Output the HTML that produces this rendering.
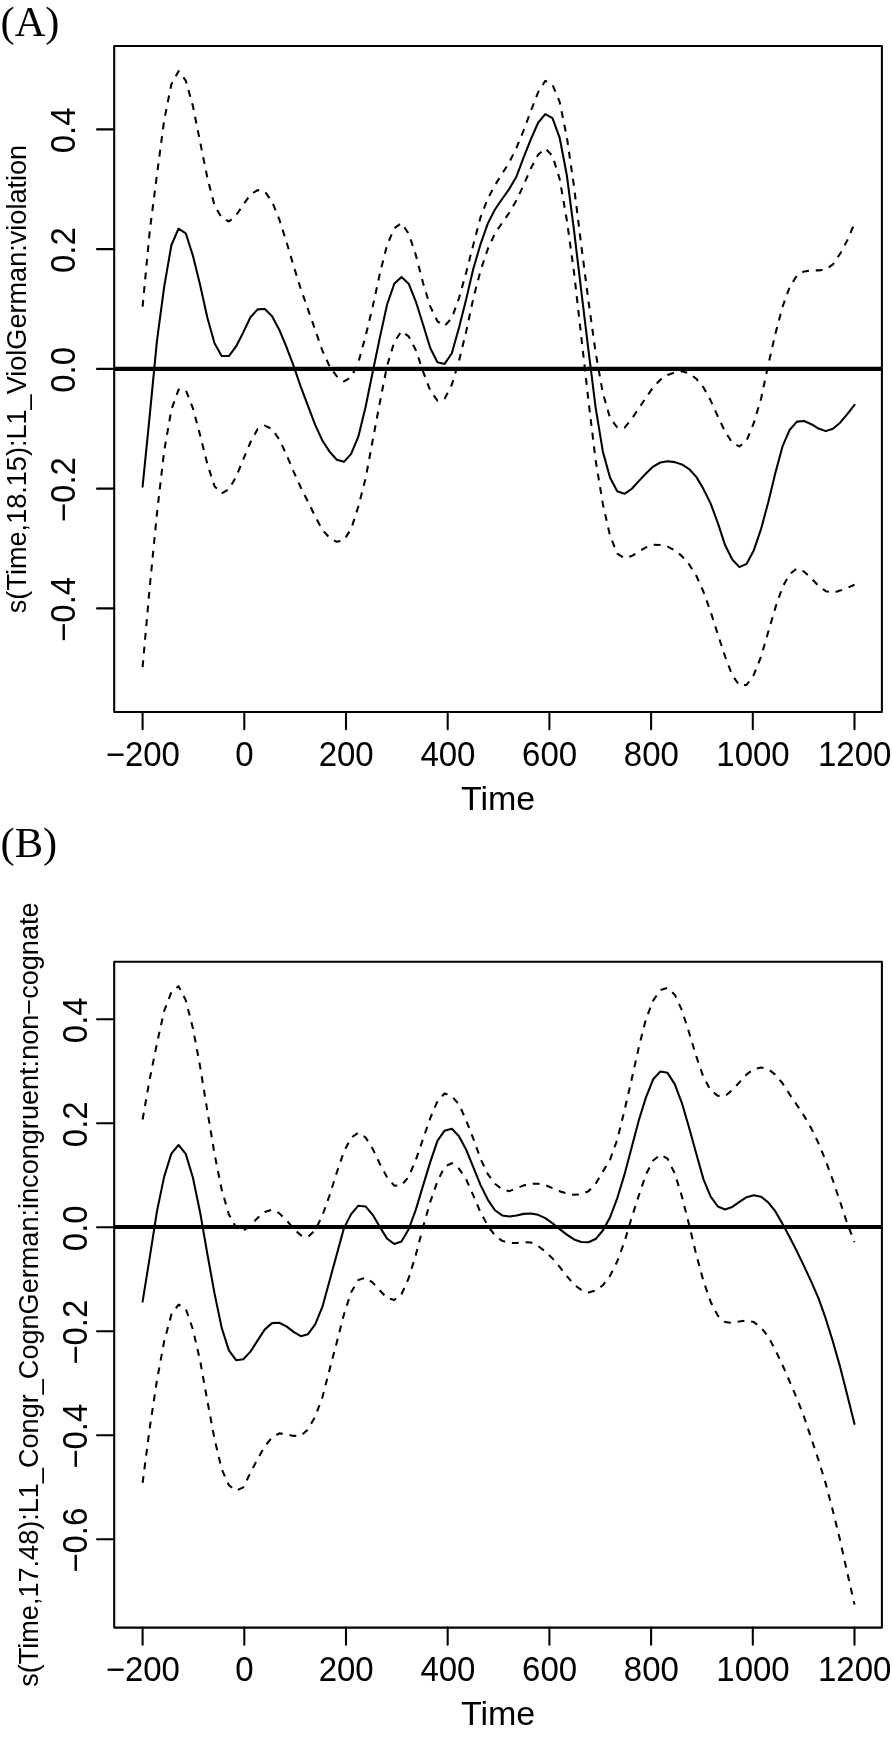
<!DOCTYPE html>
<html><head><meta charset="utf-8"><style>
html,body{margin:0;padding:0;background:#fff;}
body{width:892px;height:1737px;overflow:hidden;}
svg{display:block;will-change:transform;}
.t{font-family:"Liberation Sans",sans-serif;font-size:34.3px;fill:#000;}
.yl{font-family:"Liberation Sans",sans-serif;fill:#000;}
.pl{font-family:"Liberation Serif",serif;font-size:42.5px;fill:#000;}
</style></head><body>
<svg width="892" height="1737" viewBox="0 0 892 1737">
<rect width="892" height="1737" fill="#fff"/>
<rect x="114.2" y="46.0" width="767.70" height="666.00" fill="none" stroke="#000" stroke-width="2.06" stroke-linejoin="round"/>
<line x1="142.60" y1="712.0" x2="142.60" y2="729.20" stroke="#000" stroke-width="2.06" stroke-linecap="round"/>
<text transform="translate(142.80,766.3) scale(0.962,1)" class="t" text-anchor="middle">−200</text>
<line x1="244.30" y1="712.0" x2="244.30" y2="729.20" stroke="#000" stroke-width="2.06" stroke-linecap="round"/>
<text transform="translate(244.50,766.3) scale(0.962,1)" class="t" text-anchor="middle">0</text>
<line x1="346.00" y1="712.0" x2="346.00" y2="729.20" stroke="#000" stroke-width="2.06" stroke-linecap="round"/>
<text transform="translate(346.20,766.3) scale(0.962,1)" class="t" text-anchor="middle">200</text>
<line x1="447.70" y1="712.0" x2="447.70" y2="729.20" stroke="#000" stroke-width="2.06" stroke-linecap="round"/>
<text transform="translate(447.90,766.3) scale(0.962,1)" class="t" text-anchor="middle">400</text>
<line x1="549.40" y1="712.0" x2="549.40" y2="729.20" stroke="#000" stroke-width="2.06" stroke-linecap="round"/>
<text transform="translate(549.60,766.3) scale(0.962,1)" class="t" text-anchor="middle">600</text>
<line x1="651.10" y1="712.0" x2="651.10" y2="729.20" stroke="#000" stroke-width="2.06" stroke-linecap="round"/>
<text transform="translate(651.30,766.3) scale(0.962,1)" class="t" text-anchor="middle">800</text>
<line x1="752.80" y1="712.0" x2="752.80" y2="729.20" stroke="#000" stroke-width="2.06" stroke-linecap="round"/>
<text transform="translate(753.00,766.3) scale(0.962,1)" class="t" text-anchor="middle">1000</text>
<line x1="854.50" y1="712.0" x2="854.50" y2="729.20" stroke="#000" stroke-width="2.06" stroke-linecap="round"/>
<text transform="translate(854.70,766.3) scale(0.962,1)" class="t" text-anchor="middle">1200</text>
<text x="498.05" y="809.7" class="t" style="font-size:34px" text-anchor="middle">Time</text>
<line x1="114.2" y1="129.40" x2="97.00" y2="129.40" stroke="#000" stroke-width="2.06" stroke-linecap="round"/>
<text transform="translate(75.0,130.40) rotate(-90) scale(0.962,1)" class="t" text-anchor="middle">0.4</text>
<line x1="114.2" y1="249.15" x2="97.00" y2="249.15" stroke="#000" stroke-width="2.06" stroke-linecap="round"/>
<text transform="translate(75.0,250.15) rotate(-90) scale(0.962,1)" class="t" text-anchor="middle">0.2</text>
<line x1="114.2" y1="368.90" x2="97.00" y2="368.90" stroke="#000" stroke-width="2.06" stroke-linecap="round"/>
<text transform="translate(75.0,369.90) rotate(-90) scale(0.962,1)" class="t" text-anchor="middle">0.0</text>
<line x1="114.2" y1="488.65" x2="97.00" y2="488.65" stroke="#000" stroke-width="2.06" stroke-linecap="round"/>
<text transform="translate(75.0,489.65) rotate(-90) scale(0.962,1)" class="t" text-anchor="middle">−0.2</text>
<line x1="114.2" y1="608.40" x2="97.00" y2="608.40" stroke="#000" stroke-width="2.06" stroke-linecap="round"/>
<text transform="translate(75.0,609.40) rotate(-90) scale(0.962,1)" class="t" text-anchor="middle">−0.4</text>
<text transform="translate(25.7,379.00) rotate(-90)" class="yl" style="font-size:27.1px" text-anchor="middle">s(Time,18.15):L1_ViolGerman:violation</text>
<line x1="114.2" y1="368.9" x2="881.9" y2="368.9" stroke="#000" stroke-width="4.12"/>
<polyline points="142.60,306.70 149.79,230.58 156.98,174.43 164.17,120.31 171.36,84.19 178.55,71.17 185.75,80.58 192.94,106.11 200.13,142.10 207.32,177.55 214.51,205.42 221.70,217.72 228.89,221.50 236.08,215.33 243.27,204.80 250.46,194.44 257.65,190.13 264.85,191.57 272.04,201.60 279.23,219.30 286.42,241.70 293.61,265.87 300.80,288.98 307.99,309.43 315.18,329.86 322.37,350.59 329.56,366.28 336.75,376.23 343.95,381.32 351.14,377.23 358.33,362.63 365.52,336.35 372.71,306.63 379.90,273.44 387.09,244.97 394.28,228.34 401.47,223.11 408.66,233.64 415.85,255.15 423.05,283.05 430.24,306.42 437.43,321.30 444.62,326.02 451.81,317.98 459.00,298.26 466.19,272.41 473.38,244.55 480.57,217.18 487.76,198.66 494.95,185.17 502.15,173.75 509.34,162.16 516.53,147.71 523.72,130.20 530.91,110.83 538.10,92.30 545.29,80.81 552.48,84.68 559.67,101.92 566.86,137.22 574.05,186.74 581.25,245.06 588.44,300.84 595.63,352.58 602.82,392.97 610.01,417.88 617.20,427.26 624.39,427.84 631.58,419.24 638.77,408.39 645.96,397.71 653.15,387.32 660.35,379.67 667.54,374.95 674.73,372.46 681.92,371.18 689.11,373.23 696.30,378.77 703.49,387.40 710.68,400.61 717.87,416.46 725.06,431.60 732.25,442.72 739.45,446.44 746.64,440.42 753.83,422.90 761.02,398.94 768.21,364.88 775.40,333.61 782.59,306.61 789.78,286.86 796.97,275.43 804.16,271.40 811.35,270.28 818.55,270.39 825.74,269.58 832.93,264.33 840.12,253.75 847.31,240.26 854.50,223.50" fill="none" stroke="#000" stroke-width="2.06" stroke-dasharray="6.87 6.87" stroke-linejoin="round"/>
<polyline points="142.60,667.10 149.79,586.60 156.98,513.16 164.17,451.07 171.36,409.74 178.55,389.63 185.75,389.95 192.94,408.37 200.13,435.12 207.32,463.97 214.51,486.18 221.70,493.43 228.89,489.31 236.08,476.88 243.27,459.33 250.46,442.25 257.65,428.92 264.85,425.62 272.04,428.99 279.23,439.45 286.42,454.57 293.61,471.59 300.80,487.49 307.99,501.78 315.18,516.36 322.37,529.85 329.56,537.82 336.75,541.83 343.95,540.13 351.14,529.01 358.33,506.56 365.52,478.71 372.71,440.31 379.90,402.19 387.09,365.67 394.28,342.06 401.47,331.13 408.66,336.29 415.85,350.18 423.05,371.41 430.24,390.54 437.43,400.64 444.62,398.67 451.81,384.81 459.00,360.85 466.19,331.48 473.38,297.91 480.57,270.66 487.76,249.11 494.95,233.36 502.15,222.91 509.34,212.61 516.53,200.32 523.72,184.81 530.91,168.25 538.10,154.75 545.29,148.53 552.48,155.85 559.67,179.01 566.86,220.39 574.05,272.54 581.25,336.52 588.44,400.50 595.63,460.37 602.82,503.73 610.01,535.59 617.20,553.52 624.39,558.19 631.58,556.08 638.77,551.69 645.96,547.37 653.15,544.67 660.35,545.02 667.54,546.55 674.73,550.23 681.92,556.14 689.11,564.38 696.30,575.74 703.49,591.84 710.68,611.85 717.87,634.50 725.06,656.35 732.25,675.27 739.45,685.41 746.64,684.87 753.83,674.74 761.02,656.72 768.21,632.05 775.40,607.69 782.59,586.78 789.78,574.01 796.97,568.46 804.16,571.64 811.35,578.39 818.55,585.84 825.74,591.15 832.93,592.74 840.12,590.60 847.31,587.88 854.50,584.80" fill="none" stroke="#000" stroke-width="2.06" stroke-dasharray="6.87 6.87" stroke-linejoin="round"/>
<polyline points="142.60,486.60 149.79,414.89 156.98,340.66 164.17,286.92 171.36,245.23 178.55,228.65 185.75,233.28 192.94,255.70 200.13,285.09 207.32,317.57 214.51,343.32 221.70,356.00 228.89,356.01 236.08,346.43 243.27,332.35 250.46,317.20 257.65,309.37 264.85,309.02 272.04,316.30 279.23,329.65 286.42,346.89 293.61,365.85 300.80,386.81 307.99,405.98 315.18,424.83 322.37,440.54 329.56,451.60 336.75,459.80 343.95,461.84 351.14,453.85 358.33,436.68 365.52,407.25 372.71,372.08 379.90,337.40 387.09,304.51 394.28,283.75 401.47,276.90 408.66,283.71 415.85,301.54 423.05,324.52 430.24,347.99 437.43,362.20 444.62,363.92 451.81,353.29 459.00,327.67 466.19,299.17 473.38,268.57 480.57,244.06 487.76,223.65 494.95,209.51 502.15,199.03 509.34,188.79 516.53,176.42 523.72,157.03 530.91,139.06 538.10,122.74 545.29,114.09 552.48,118.23 559.67,137.78 566.86,175.50 574.05,230.62 581.25,290.66 588.44,350.16 595.63,407.63 602.82,451.43 610.01,477.53 617.20,491.32 624.39,493.79 631.58,488.99 638.77,481.15 645.96,473.51 653.15,466.61 660.35,462.49 667.54,461.28 674.73,462.13 681.92,464.49 689.11,469.05 696.30,476.87 703.49,489.10 710.68,503.61 717.87,523.13 725.06,545.07 732.25,559.54 739.45,567.10 746.64,563.82 753.83,550.19 761.02,529.14 768.21,502.42 775.40,472.78 782.59,446.18 789.78,429.69 796.97,421.63 804.16,420.96 811.35,424.22 818.55,428.58 825.74,431.13 832.93,428.71 840.12,422.68 847.31,414.14 854.50,404.80" fill="none" stroke="#000" stroke-width="2.06" stroke-linejoin="round" stroke-linecap="round"/>
<text x="0.5" y="35.8" class="pl">(A)</text>
<rect x="114.2" y="961.7" width="767.70" height="665.90" fill="none" stroke="#000" stroke-width="2.06" stroke-linejoin="round"/>
<line x1="142.60" y1="1627.6" x2="142.60" y2="1644.80" stroke="#000" stroke-width="2.06" stroke-linecap="round"/>
<text transform="translate(142.80,1681.0) scale(0.962,1)" class="t" text-anchor="middle">−200</text>
<line x1="244.30" y1="1627.6" x2="244.30" y2="1644.80" stroke="#000" stroke-width="2.06" stroke-linecap="round"/>
<text transform="translate(244.50,1681.0) scale(0.962,1)" class="t" text-anchor="middle">0</text>
<line x1="346.00" y1="1627.6" x2="346.00" y2="1644.80" stroke="#000" stroke-width="2.06" stroke-linecap="round"/>
<text transform="translate(346.20,1681.0) scale(0.962,1)" class="t" text-anchor="middle">200</text>
<line x1="447.70" y1="1627.6" x2="447.70" y2="1644.80" stroke="#000" stroke-width="2.06" stroke-linecap="round"/>
<text transform="translate(447.90,1681.0) scale(0.962,1)" class="t" text-anchor="middle">400</text>
<line x1="549.40" y1="1627.6" x2="549.40" y2="1644.80" stroke="#000" stroke-width="2.06" stroke-linecap="round"/>
<text transform="translate(549.60,1681.0) scale(0.962,1)" class="t" text-anchor="middle">600</text>
<line x1="651.10" y1="1627.6" x2="651.10" y2="1644.80" stroke="#000" stroke-width="2.06" stroke-linecap="round"/>
<text transform="translate(651.30,1681.0) scale(0.962,1)" class="t" text-anchor="middle">800</text>
<line x1="752.80" y1="1627.6" x2="752.80" y2="1644.80" stroke="#000" stroke-width="2.06" stroke-linecap="round"/>
<text transform="translate(753.00,1681.0) scale(0.962,1)" class="t" text-anchor="middle">1000</text>
<line x1="854.50" y1="1627.6" x2="854.50" y2="1644.80" stroke="#000" stroke-width="2.06" stroke-linecap="round"/>
<text transform="translate(854.70,1681.0) scale(0.962,1)" class="t" text-anchor="middle">1200</text>
<text x="498.05" y="1725.3" class="t" style="font-size:34px" text-anchor="middle">Time</text>
<line x1="114.2" y1="1019.30" x2="97.00" y2="1019.30" stroke="#000" stroke-width="2.06" stroke-linecap="round"/>
<text transform="translate(87.0,1020.30) rotate(-90) scale(0.962,1)" class="t" text-anchor="middle">0.4</text>
<line x1="114.2" y1="1123.28" x2="97.00" y2="1123.28" stroke="#000" stroke-width="2.06" stroke-linecap="round"/>
<text transform="translate(87.0,1124.28) rotate(-90) scale(0.962,1)" class="t" text-anchor="middle">0.2</text>
<line x1="114.2" y1="1227.26" x2="97.00" y2="1227.26" stroke="#000" stroke-width="2.06" stroke-linecap="round"/>
<text transform="translate(87.0,1228.26) rotate(-90) scale(0.962,1)" class="t" text-anchor="middle">0.0</text>
<line x1="114.2" y1="1331.24" x2="97.00" y2="1331.24" stroke="#000" stroke-width="2.06" stroke-linecap="round"/>
<text transform="translate(87.0,1332.24) rotate(-90) scale(0.962,1)" class="t" text-anchor="middle">−0.2</text>
<line x1="114.2" y1="1435.22" x2="97.00" y2="1435.22" stroke="#000" stroke-width="2.06" stroke-linecap="round"/>
<text transform="translate(87.0,1436.22) rotate(-90) scale(0.962,1)" class="t" text-anchor="middle">−0.4</text>
<line x1="114.2" y1="1539.20" x2="97.00" y2="1539.20" stroke="#000" stroke-width="2.06" stroke-linecap="round"/>
<text transform="translate(87.0,1540.20) rotate(-90) scale(0.962,1)" class="t" text-anchor="middle">−0.6</text>
<text transform="translate(38.4,1294.65) rotate(-90)" class="yl" style="font-size:27.1px" text-anchor="middle">s(Time,17.48):L1_Congr_CognGerman:incongruent:non−cognate</text>
<line x1="114.2" y1="1227.0" x2="881.9" y2="1227.0" stroke="#000" stroke-width="4.12"/>
<polyline points="142.60,1119.50 149.79,1078.78 156.98,1043.33 164.17,1010.81 171.36,992.33 178.55,986.19 185.75,1000.15 192.94,1028.30 200.13,1066.68 207.32,1110.77 214.51,1153.85 221.70,1189.64 228.89,1214.52 236.08,1227.60 243.27,1230.85 250.46,1225.69 257.65,1217.85 264.85,1212.04 272.04,1209.63 279.23,1213.17 286.42,1220.15 293.61,1228.56 300.80,1235.33 307.99,1237.08 315.18,1230.20 322.37,1215.52 329.56,1195.38 336.75,1172.54 343.95,1151.63 351.14,1137.71 358.33,1132.69 365.52,1137.36 372.71,1148.83 379.90,1164.00 387.09,1177.38 394.28,1185.69 401.47,1185.28 408.66,1176.87 415.85,1159.80 423.05,1138.96 430.24,1118.14 437.43,1101.38 444.62,1093.39 451.81,1096.27 459.00,1104.34 466.19,1120.45 473.38,1138.80 480.57,1158.86 487.76,1174.10 494.95,1183.79 502.15,1189.34 509.34,1191.16 516.53,1188.28 523.72,1185.38 530.91,1183.83 538.10,1183.68 545.29,1185.02 552.48,1188.14 559.67,1191.19 566.86,1193.48 574.05,1194.81 581.25,1194.38 588.44,1191.20 595.63,1183.81 602.82,1171.61 610.01,1159.78 617.20,1139.76 624.39,1110.91 631.58,1079.71 638.77,1047.50 645.96,1019.02 653.15,1000.57 660.35,990.01 667.54,987.77 674.73,994.66 681.92,1010.30 689.11,1032.69 696.30,1056.40 703.49,1077.09 710.68,1090.18 717.87,1095.83 725.06,1096.11 732.25,1090.03 739.45,1082.35 746.64,1074.41 753.83,1069.13 761.02,1067.45 768.21,1069.17 775.40,1074.64 782.59,1083.43 789.78,1094.52 796.97,1105.06 804.16,1115.99 811.35,1128.60 818.55,1143.35 825.74,1160.75 832.93,1180.43 840.12,1201.92 847.31,1223.55 854.50,1242.20" fill="none" stroke="#000" stroke-width="2.06" stroke-dasharray="6.87 6.87" stroke-linejoin="round"/>
<polyline points="142.60,1482.90 149.79,1427.53 156.98,1380.13 164.17,1341.39 171.36,1314.63 178.55,1304.61 185.75,1308.71 192.94,1329.44 200.13,1360.75 207.32,1400.63 214.51,1439.04 221.70,1469.19 228.89,1485.28 236.08,1490.66 243.27,1487.31 250.46,1472.77 257.65,1458.76 264.85,1446.19 272.04,1437.49 279.23,1433.36 286.42,1434.21 293.61,1435.89 300.80,1435.85 307.99,1429.37 315.18,1416.68 322.37,1397.28 329.56,1369.67 336.75,1342.51 343.95,1314.33 351.14,1292.18 358.33,1280.00 365.52,1277.66 372.71,1282.61 379.90,1290.51 387.09,1298.13 394.28,1300.01 401.47,1294.23 408.66,1278.29 415.85,1254.75 423.05,1227.11 430.24,1201.85 437.43,1181.49 444.62,1166.69 451.81,1163.08 459.00,1168.62 466.19,1179.43 473.38,1195.65 480.57,1212.49 487.76,1225.70 494.95,1235.49 502.15,1240.83 509.34,1242.96 516.53,1243.01 523.72,1242.04 530.91,1242.53 538.10,1246.01 545.29,1251.47 552.48,1258.45 559.67,1266.95 566.86,1276.18 574.05,1284.61 581.25,1289.87 588.44,1292.40 595.63,1290.56 602.82,1285.26 610.01,1275.86 617.20,1261.41 624.39,1242.05 631.58,1217.94 638.77,1195.62 645.96,1174.34 653.15,1160.57 660.35,1154.71 667.54,1158.65 674.73,1173.46 681.92,1196.46 689.11,1224.87 696.30,1254.74 703.49,1281.27 710.68,1301.96 717.87,1315.76 725.06,1321.95 732.25,1322.82 739.45,1321.50 746.64,1320.49 753.83,1322.11 761.02,1327.56 768.21,1336.56 775.40,1350.23 782.59,1365.23 789.78,1381.83 796.97,1398.60 804.16,1417.13 811.35,1438.62 818.55,1460.06 825.74,1483.61 832.93,1511.10 840.12,1540.33 847.31,1572.88 854.50,1604.50" fill="none" stroke="#000" stroke-width="2.06" stroke-dasharray="6.87 6.87" stroke-linejoin="round"/>
<polyline points="142.60,1301.70 149.79,1257.04 156.98,1211.15 164.17,1176.61 171.36,1153.60 178.55,1145.00 185.75,1153.88 192.94,1177.74 200.13,1212.43 207.32,1253.72 214.51,1293.37 221.70,1327.86 228.89,1350.43 236.08,1360.18 243.27,1359.31 250.46,1351.62 257.65,1340.33 264.85,1329.39 272.04,1323.14 279.23,1322.72 286.42,1326.40 293.61,1331.89 300.80,1336.17 307.99,1334.19 315.18,1324.46 322.37,1306.98 329.56,1280.65 336.75,1254.49 343.95,1228.14 351.14,1214.10 358.33,1205.67 365.52,1206.44 372.71,1214.81 379.90,1227.10 387.09,1238.64 394.28,1243.96 401.47,1241.42 408.66,1229.26 415.85,1209.64 423.05,1185.66 430.24,1162.14 437.43,1140.95 444.62,1130.64 451.81,1128.72 459.00,1136.21 466.19,1149.76 473.38,1167.29 480.57,1185.11 487.76,1199.57 494.95,1210.21 502.15,1215.45 509.34,1216.60 516.53,1215.44 523.72,1213.87 530.91,1213.44 538.10,1214.83 545.29,1218.18 552.48,1223.24 559.67,1229.12 566.86,1234.67 574.05,1239.45 581.25,1242.04 588.44,1242.30 595.63,1239.04 602.82,1230.48 610.01,1217.50 617.20,1198.30 624.39,1174.90 631.58,1147.66 638.77,1120.46 645.96,1097.36 653.15,1079.31 660.35,1071.55 667.54,1072.85 674.73,1084.14 681.92,1103.06 689.11,1127.83 696.30,1153.69 703.49,1179.38 710.68,1196.73 717.87,1206.49 725.06,1209.46 732.25,1206.91 739.45,1201.82 746.64,1197.21 753.83,1195.26 761.02,1196.78 768.21,1202.31 775.40,1211.41 782.59,1224.03 789.78,1237.26 796.97,1251.46 804.16,1266.33 811.35,1281.89 818.55,1298.36 825.74,1318.71 832.93,1341.66 840.12,1366.90 847.31,1395.14 854.50,1424.00" fill="none" stroke="#000" stroke-width="2.06" stroke-linejoin="round" stroke-linecap="round"/>
<text x="0.5" y="857.2" class="pl">(B)</text>
</svg>
</body></html>
